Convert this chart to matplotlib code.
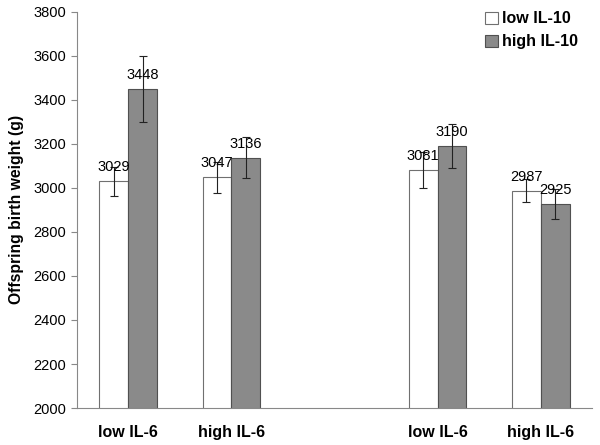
import numpy as np
import matplotlib.pyplot as plt

plt.rcParams['font.family'] = ['Liberation Sans', 'DejaVu Sans']

# groups along x (index 2 is an empty gap)
group_pos = [0, 1, 3, 4]
group_labels = ['low IL-6', 'high IL-6', 'low IL-6', 'high IL-6']

low_il10 = [3029, 3047, 3081, 2987]
low_il10_err = [65, 70, 80, 53]
high_il10 = [3448, 3136, 3190, 2925]
high_il10_err = [150, 93, 100, 68]

W = 0.28

fig = plt.figure(figsize=(6, 4.45), dpi=100)
ax = fig.add_axes([0.128, 0.083, 0.859, 0.891])

x = np.array(group_pos)
ax.bar(x - W/2, low_il10, W, color='white', edgecolor='#707070',
       linewidth=0.8, label='low IL-10', zorder=2)
ax.bar(x + W/2, high_il10, W, color='#8a8a8a', edgecolor='#505050',
       linewidth=0.8, label='high IL-10', zorder=2)
ax.errorbar(x - W/2, low_il10, yerr=low_il10_err, fmt='none', ecolor='#222222',
            elinewidth=0.8, capsize=3, capthick=0.8, zorder=3)
ax.errorbar(x + W/2, high_il10, yerr=high_il10_err, fmt='none', ecolor='#222222',
            elinewidth=0.8, capsize=3, capthick=0.8, zorder=3)

for xi, v in zip(x - W/2, low_il10):
    ax.annotate(str(v), (xi, v), xytext=(0, 5), textcoords='offset points',
                ha='center', va='bottom', fontsize=10.5)
for xi, v in zip(x + W/2, high_il10):
    ax.annotate(str(v), (xi, v), xytext=(0, 5), textcoords='offset points',
                ha='center', va='bottom', fontsize=10.5)

ax.set_xlim(-0.5, 4.5)
ax.set_ylim(2000, 3800)
ax.set_yticks(np.arange(2000, 3801, 200))
ax.set_xticks(group_pos)
ax.set_xticklabels(group_labels, fontweight='bold', fontsize=11.5)
ax.tick_params(axis='x', length=0, pad=12)
ax.tick_params(axis='y', length=4, color='#888888', labelsize=10.5)
ax.set_ylabel('Offspring birth weight (g)', fontweight='bold', fontsize=11.3, labelpad=7)

for s in ['top', 'right']:
    ax.spines[s].set_visible(False)
for s in ['left', 'bottom']:
    ax.spines[s].set_color('#888888')

ax.legend(loc='upper right', frameon=False, prop={'weight': 'bold', 'size': 11.5},
          handlelength=0.8, handleheight=0.8, handletextpad=0.3, labelspacing=0.5,
          borderaxespad=0.2, bbox_to_anchor=(0.992, 1.025))

plt.savefig('out.png')
